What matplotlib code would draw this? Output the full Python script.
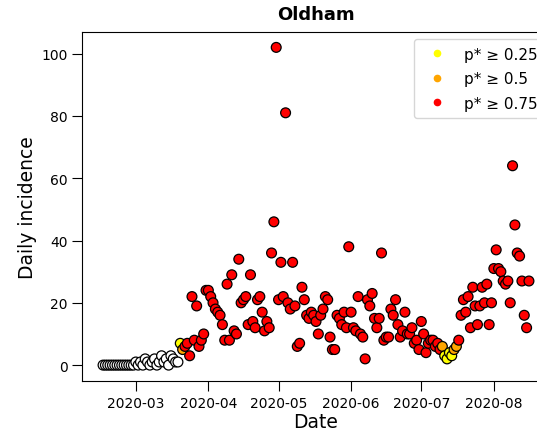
import matplotlib
matplotlib.use("Agg")
import matplotlib.pyplot as plt
import matplotlib.dates as mdates
from matplotlib.lines import Line2D
import pandas as pd

# daily incidence, one value per day starting 2020-02-16
feb = [0, 0, 0, 0, 0, 0, 0, 0, 0, 0, 0, 0, 0, 0]
mar = [1, 0, 1, 0, 2, 1, 0, 1, 2, 0, 1, 3, 1, 2, 0, 3, 2, 1, 1, 7,
       5, 6, 7, 3, 22, 8, 19, 6, 8, 10, 24]
apr = [24, 22, 20, 18, 17, 16, 13, 8, 26, 8, 29, 11, 10, 34, 20, 21, 22, 13, 29, 14,
       12, 21, 22, 17, 11, 14, 12, 36, 46, 102]
may = [21, 33, 22, 81, 20, 18, 33, 19, 6, 7, 25, 21, 16, 15, 17, 16, 14, 10, 16, 18,
       22, 21, 9, 5, 5, 16, 15, 13, 17, 12, 38]
jun = [17, 12, 11, 22, 10, 9, 2, 21, 19, 23, 15, 12, 15, 36, 8, 9, 9, 18, 16, 21,
       13, 9, 11, 17, 10, 10, 12, 7, 8, 5]
jul = [14, 10, 4, 7, 8, 8, 6, 7, 5, 6, 3, 2, 4, 3, 5, 6, 8, 16, 21, 17,
       22, 12, 25, 19, 13, 19, 25, 20, 26, 13, 20]
aug = [31, 37, 31, 30, 27, 26, 27, 20, 64, 45, 36, 35, 27, 16, 12, 27]

values = feb + mar + apr + may + jun + jul + aug
dates = pd.date_range("2020-02-16", periods=len(values), freq="D")

# probability class of each day: 0 none, 1 p*>=0.25, 2 p*>=0.5, 3 p*>=0.75
cls = ([0] * 14 + [0] * 19 + [1, 2] + [3] * 10 + [3] * 30 + [3] * 31 + [3] * 30
       + [3] * 9 + [2, 1, 1, 1, 1, 2, 2] + [3] * 15 + [3] * 16)

class_colors = {0: "white", 1: "#ffff00", 2: "#ffa500", 3: "#ff0000"}
legend_labels = ["p* \u2265 0.25", "p* \u2265 0.5", "p* \u2265 0.75"]

fig = plt.figure(figsize=(5.37, 4.35), dpi=100)
ax = fig.add_axes([82 / 537, 53 / 435, 468 / 537, 349.5 / 435])

face = [class_colors[c] for c in cls]
ax.scatter(dates, values, s=50, c=face, edgecolors="black", linewidths=0.9, zorder=3)

ax.set_xlim(pd.Timestamp("2020-02-07"), pd.Timestamp("2020-08-25"))
ax.set_ylim(-5.1, 107.1)
ax.set_yticks([0, 20, 40, 60, 80, 100])
ax.xaxis.set_major_locator(mdates.MonthLocator())
ax.xaxis.set_major_formatter(mdates.DateFormatter("%Y-%m"))
ax.tick_params(labelsize=10, length=7)
ax.set_xlabel("Date", fontsize=13.5, labelpad=2)
ax.set_ylabel("Daily incidence", fontsize=13.5, labelpad=3)
ax.set_title("Oldham", fontsize=13, fontweight="bold", pad=9)

handles = [Line2D([], [], marker="o", linestyle="none", markersize=4.5,
                  markerfacecolor=class_colors[k], markeredgecolor=class_colors[k])
           for k in (1, 2, 3)]
fig.legend(handles, legend_labels, loc="upper left",
           bbox_to_anchor=(414 / 537, 1 - 40 / 435), borderaxespad=0,
           fontsize=11, labelspacing=0.62, borderpad=0.5,
           handletextpad=0.8, frameon=True)

fig.savefig("out.png", dpi=100)
